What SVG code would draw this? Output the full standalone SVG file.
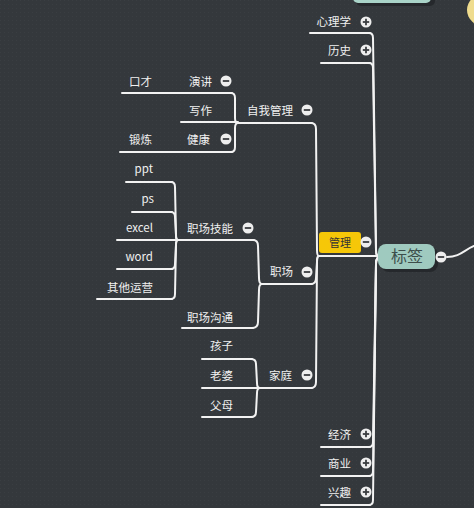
<svg xmlns="http://www.w3.org/2000/svg" width="474" height="508" viewBox="0 0 474 508">
<defs>
<pattern id="grid" width="4" height="4" patternUnits="userSpaceOnUse">
<rect width="4" height="4" fill="#34383c"/>
<rect width="1" height="1" fill="#3a3e42"/>
</pattern>
<g id="minus"><circle r="5.5" fill="#eeeeee"/><line x1="-3.2" y1="0" x2="3.2" y2="0" stroke="#3a3d40" stroke-width="1.8"/></g>
<g id="plus"><circle r="5.5" fill="#eeeeee"/><line x1="-3.2" y1="0" x2="3.2" y2="0" stroke="#3a3d40" stroke-width="1.8"/><line x1="0" y1="-3.2" x2="0" y2="3.2" stroke="#3a3d40" stroke-width="1.8"/></g>
</defs>
<style>
.t{font-family:"Noto Sans CJK SC","Noto Sans",sans-serif;font-size:11.5px;fill:#f0f0f0;text-anchor:end}
.u{stroke:#f2f2f2;stroke-width:2;fill:none;stroke-linecap:round}
.c{stroke:#f2f2f2;stroke-width:2;fill:none;stroke-linecap:round;stroke-linejoin:round}
</style>
<rect width="474" height="508" fill="url(#grid)"/>

<!-- partial nodes at edges -->
<g id="top-node">
<rect x="356" y="-20" width="79" height="26" rx="5" fill="#1f2225" opacity="0.7"/>
<rect x="353" y="-22" width="78" height="25" rx="5" fill="#a9d3c8"/>
</g>
<g id="right-node">
<ellipse cx="486" cy="10" rx="19" ry="17" fill="#efdc8e"/>
</g>

<g id="connectors">
<!-- main to level 1 -->
<path class="c" d="M447,257 C460,257 464,250 474,246"/>
<path class="c" d="M380,257 Q376,257 376,250 L373,38 Q373,33 369,33"/>
<path class="c" d="M380,257 Q376,257 376,250 L373,68 Q373,63 369,63"/>
<path class="c" d="M380,257 Q376,257 376,264 L373,442 Q373,447 369,447"/>
<path class="c" d="M380,257 Q376,257 376,264 L373,471 Q373,476 369,476"/>
<path class="c" d="M380,257 Q376,257 376,264 L373,500 Q373,505 369,505"/>
<!-- 管理 to children -->
<path class="c" d="M319,256 Q317,256 317,250 L316,129 Q316,123 311,123"/>
<path class="c" d="M319,256 Q317,256 317,262 L316,278 Q316,284 311,284"/>
<path class="c" d="M319,256 Q317,256 317,262 L316,382 Q316,388 311,388"/>
<!-- 自我管理 children -->
<path class="c" d="M238,123 Q235,123 235,118 L235,98 Q235,93 231,93"/>
<path class="c" d="M238,123 Q235,123 235,128 L235,147 Q235,152 231,152"/>
<!-- 职场 children -->
<path class="c" d="M262,284 Q259,284 259,278 L258,246 Q258,240 253,240"/>
<path class="c" d="M262,284 Q259,284 259,290 L258,322 Q258,328 252,328"/>
<!-- 职场技能 children -->
<path class="c" d="M178,240 Q176,240 176,235 L175,187 Q175,182 171,182"/>
<path class="c" d="M178,240 Q176,240 176,235 L175,217 Q175,212 171,212"/>
<path class="c" d="M178,240 Q176,240 176,245 L175,264 Q175,269 171,269"/>
<path class="c" d="M178,240 Q176,240 176,245 L175,294 Q175,299 171,299"/>
<!-- 家庭 children -->
<path class="c" d="M260,388 Q257,388 257,383 L256,364 Q256,359 251,359"/>
<path class="c" d="M260,388 Q257,388 257,393 L256,412 Q256,417 251,417"/>
</g>

<g id="n-biaoqian">
<rect x="381" y="247" width="57" height="25" rx="8" fill="#1f2225" opacity="0.7"/>
<rect x="378" y="244" width="57" height="25" rx="8" fill="#9fcabf"/>
<text x="407" y="262" style="font-family:'Noto Sans CJK SC',sans-serif;font-size:16px;fill:#3d4e4b;text-anchor:middle">标签</text>
<use href="#minus" x="441" y="257"/>
</g>

<g id="n-xinlixue"><text class="t" x="351" y="26">心理学</text><line class="u" x1="310" y1="33" x2="370" y2="33"/><use href="#plus" x="366" y="22"/></g>
<g id="n-lishi"><text class="t" x="351" y="55">历史</text><line class="u" x1="321" y1="63" x2="370" y2="63"/><use href="#plus" x="366" y="50"/></g>
<g id="n-jingji"><text class="t" x="351" y="439">经济</text><line class="u" x1="321" y1="447" x2="370" y2="447"/><use href="#plus" x="366" y="434"/></g>
<g id="n-shangye"><text class="t" x="351" y="468">商业</text><line class="u" x1="321" y1="476" x2="370" y2="476"/><use href="#plus" x="366" y="463"/></g>
<g id="n-xingqu"><text class="t" x="351" y="497">兴趣</text><line class="u" x1="321" y1="505" x2="370" y2="505"/><use href="#plus" x="366" y="492"/></g>

<g id="n-guanli">
<rect x="319" y="232" width="42" height="21" rx="3" fill="#f6c708"/>
<text x="340" y="246.5" style="font-family:'Noto Sans CJK SC',sans-serif;font-size:11px;fill:#333333;text-anchor:middle">管理</text>
<line class="u" x1="319" y1="256" x2="377" y2="256"/>
<use href="#minus" x="366" y="242"/>
</g>

<g id="n-ziwoguanli"><text class="t" x="293" y="114.5">自我管理</text><line class="u" x1="238" y1="123" x2="312" y2="123"/><use href="#minus" x="307" y="110"/></g>
<g id="n-zhichang"><text class="t" x="293" y="275.5">职场</text><line class="u" x1="262" y1="284" x2="312" y2="284"/><use href="#minus" x="307" y="272"/></g>
<g id="n-jiating"><text class="t" x="292" y="379.5">家庭</text><line class="u" x1="260" y1="388" x2="312" y2="388"/><use href="#minus" x="307" y="375"/></g>

<g id="n-yanjiang"><text class="t" x="212" y="85.5">演讲</text><line class="u" x1="188" y1="93" x2="232" y2="93"/><use href="#minus" x="226" y="81"/></g>
<g id="n-koucai"><text class="t" x="152" y="85.5">口才</text><line class="u" x1="122" y1="93" x2="188" y2="93"/></g>
<g id="n-xiezuo"><text class="t" x="212" y="114.5">写作</text><line class="u" x1="181" y1="122" x2="238" y2="122"/></g>
<g id="n-jiankang"><text class="t" x="210" y="143.5">健康</text><line class="u" x1="188" y1="152" x2="232" y2="152"/><use href="#minus" x="226" y="139"/></g>
<g id="n-duanlian"><text class="t" x="152" y="143.5">锻炼</text><line class="u" x1="120" y1="152" x2="188" y2="152"/></g>

<g id="n-zhichangjineng"><text class="t" x="233" y="232.5">职场技能</text><line class="u" x1="178" y1="240" x2="254" y2="240"/><use href="#minus" x="248" y="228"/></g>
<g id="n-zhichanggoutong"><text class="t" x="233" y="321.5">职场沟通</text><line class="u" x1="182" y1="328" x2="253" y2="328"/></g>

<g id="n-ppt"><text class="t" x="153" y="173">ppt</text><line class="u" x1="126" y1="182" x2="172" y2="182"/></g>
<g id="n-ps"><text class="t" x="154" y="203">ps</text><line class="u" x1="132" y1="212" x2="172" y2="212"/></g>
<g id="n-excel"><text class="t" x="153" y="232">excel</text><line class="u" x1="117" y1="240" x2="178" y2="240"/></g>
<g id="n-word"><text class="t" x="153" y="261">word</text><line class="u" x1="117" y1="269" x2="172" y2="269"/></g>
<g id="n-qita"><text class="t" x="153" y="291.5">其他运营</text><line class="u" x1="97" y1="299" x2="172" y2="299"/></g>

<g id="n-haizi"><text class="t" x="233" y="349.5">孩子</text><line class="u" x1="202" y1="359" x2="252" y2="359"/></g>
<g id="n-laopo"><text class="t" x="233" y="379.5">老婆</text><line class="u" x1="202" y1="388" x2="260" y2="388"/></g>
<g id="n-fumu"><text class="t" x="233" y="409.5">父母</text><line class="u" x1="202" y1="417" x2="252" y2="417"/></g>
</svg>
